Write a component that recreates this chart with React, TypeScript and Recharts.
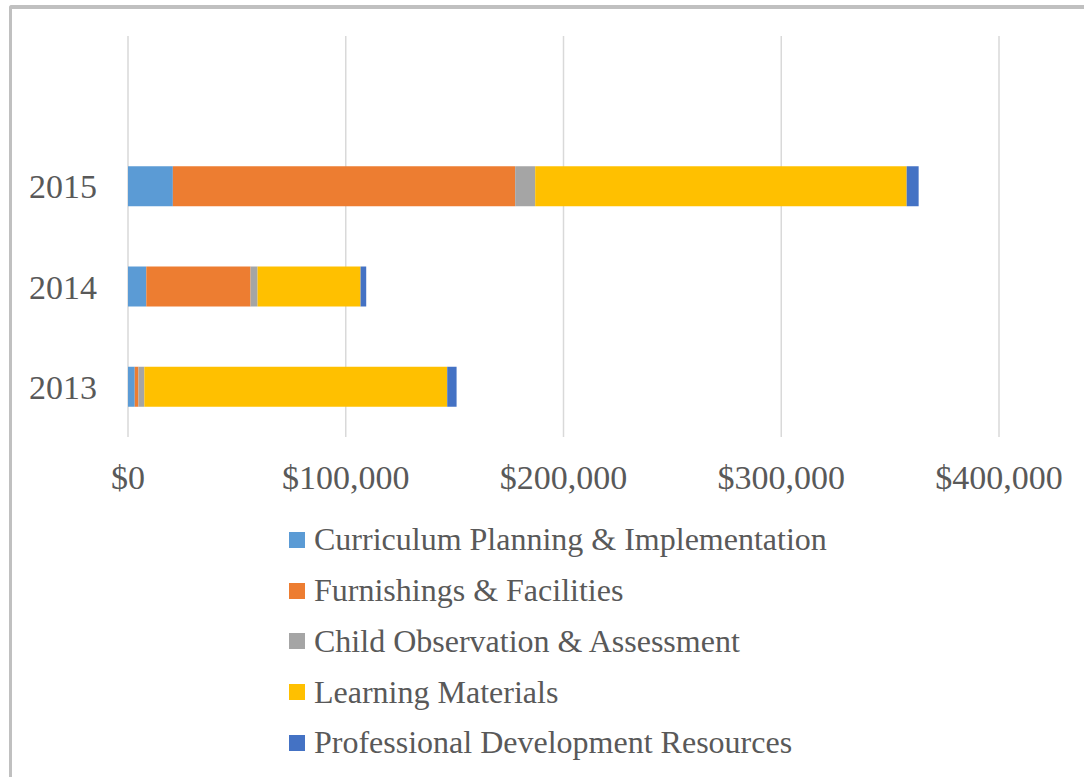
import { BarChart, Bar, XAxis, YAxis, CartesianGrid, Legend } from "recharts"

const years = ["", "2015", "2014", "2013"]
const curriculum = [null, 20600, 8400, 3100]
const furnishings = [null, 157200, 47900, 1700]
const observation = [null, 9200, 3200, 2700]
const materials = [null, 170600, 47300, 139100]
const development = [null, 5500, 2600, 4300]
const xTicks = [0, 100000, 200000, 300000, 400000]

const SERIES = [
  { key: "curriculum", name: "Curriculum Planning & Implementation", color: "#5B9BD5" },
  { key: "furnishings", name: "Furnishings & Facilities", color: "#ED7D31" },
  { key: "observation", name: "Child Observation & Assessment", color: "#A5A5A5" },
  { key: "materials", name: "Learning Materials", color: "#FFC000" },
  { key: "development", name: "Professional Development Resources", color: "#4472C4" },
]

const data = years.map((year, i) => ({
  year,
  curriculum: curriculum[i],
  furnishings: furnishings[i],
  observation: observation[i],
  materials: materials[i],
  development: development[i],
}))

const FONT = '"Liberation Serif", "Times New Roman", serif'
const TEXT = "#595959"

const money = (v: number) => "$" + v.toLocaleString("en-US")

function LegendList() {
  return (
    <div style={{ fontFamily: FONT, fontSize: 32, color: TEXT }}>
      {SERIES.map((s) => (
        <div key={s.key} style={{ height: 50.75, display: "flex", alignItems: "center", whiteSpace: "nowrap" }}>
          <span style={{ width: 16, height: 16, background: s.color, display: "inline-block", marginRight: 9, flex: "none" }} />
          <span>{s.name}</span>
        </div>
      ))}
    </div>
  )
}

export default function App() {
  return (
    <div style={{ position: "absolute", left: 0, top: 0, width: 1084, height: 777, overflow: "hidden", background: "#fff" }}>
      <div
        style={{
          position: "absolute", left: 9, top: 5, width: 1200, height: 900,
          borderLeft: "3px solid #c0c0c0", borderTop: "4px solid #c0c0c0", borderTopLeftRadius: 3,
        }}
      />
      <BarChart
        width={1084}
        height={777}
        data={data}
        layout="vertical"
        barSize={40}
        margin={{ top: 36, right: 85, bottom: 280, left: 0 }}
        style={{ position: "absolute", left: 0, top: 0 }}
      >
        <CartesianGrid horizontal={false} stroke="#d9d9d9" strokeWidth={1.5} />
        <XAxis
          type="number"
          domain={[0, 400000]}
          ticks={xTicks}
          tickFormatter={money}
          axisLine={false}
          tickLine={false}
          tickSize={0}
          tickMargin={28}
          height={60}
          interval={0}
          tick={{ fontFamily: FONT, fontSize: 34, fill: TEXT }}
        />
        <YAxis
          type="category"
          dataKey="year"
          width={128}
          axisLine={false}
          tickLine={false}
          tickSize={0}
          tickMargin={31}
          interval={0}
          tick={{ fontFamily: FONT, fontSize: 34, fill: TEXT }}
        />
        <Legend
          layout="vertical"
          align="center"
          verticalAlign="middle"
          content={() => <LegendList />}
          wrapperStyle={{ top: 514.6, left: 289, width: 760, height: 260 }}
        />
        {SERIES.map((s) => (
          <Bar key={s.key} dataKey={s.key} name={s.name} stackId="a" fill={s.color} isAnimationActive={false} />
        ))}
      </BarChart>
    </div>
  )
}
